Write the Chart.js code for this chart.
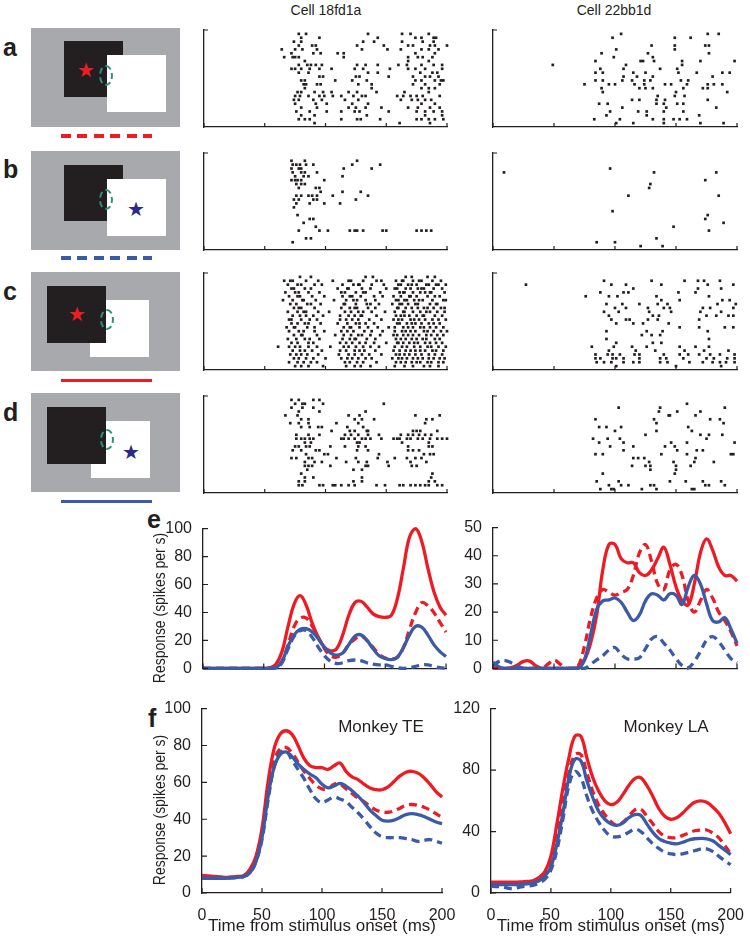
<!DOCTYPE html>
<html lang="en">
<head>
<meta charset="UTF-8">
<title>Border ownership responses</title>
<script src="https://cdn.jsdelivr.net/npm/chart.js"></script>
<style>
    body { margin: 0; background: #fff; font-family: "Liberation Sans", Arial, sans-serif; }
    #page { position: relative; width: 750px; height: 937px; overflow: hidden; }
    canvas { position: absolute; }
    .lbl { position: absolute; font-weight: bold; font-size: 25px; line-height: 25px; color: #231f20; }
    .cell { position: absolute; width: 100px; text-align: center; font-size: 14px; color: #231f20; }
    .mk { position: absolute; width: 120px; text-align: center; font-size: 17px; color: #231f20; }
    .ytitle { position: absolute; white-space: nowrap; font-size: 17px; line-height: 20px; color: #231f20;
              transform: translate(-50%, -50%) rotate(-90deg) scaleX(0.82); }
    .gray { position: absolute; background: #a7a9ac; width: 149px; height: 99px; }
    .blk { position: absolute; background: #231f20; width: 59px; height: 57px; }
    .wht { position: absolute; background: #fff; width: 59px; height: 57px; }
    .star { position: absolute; font-family: "DejaVu Sans", sans-serif; font-size: 20px; line-height: 20px; transform: translate(-50%, -52%); }
    .rf { position: absolute; width: 14px; height: 21px; box-sizing: border-box; border: 2px dashed #31907a; border-radius: 50%; }
    .bar { position: absolute; left: 61px; width: 91px; height: 4px; }
</style>
</head>
<body>
<div id="page">
    <!-- stimulus panels -->
    <div class="gray" style="left:31px;top:28px"></div>
    <div class="blk" style="left:64px;top:41px;height:56px"></div>
    <div class="wht" style="left:107px;top:55px"></div>
    <div class="star" style="left:86px;top:70px;color:#ed1c24">&#9733;</div>
    <div class="rf" style="left:99px;top:65px"></div>
    <div class="bar" style="top:134px;background:repeating-linear-gradient(90deg,#ed1c24 0 10px,transparent 10px 16.5px)"></div>

    <div class="gray" style="left:31px;top:151px"></div>
    <div class="blk" style="left:64px;top:165px;height:56px"></div>
    <div class="wht" style="left:107px;top:179px"></div>
    <div class="star" style="left:136px;top:209px;color:#2b2a8c">&#9733;</div>
    <div class="rf" style="left:99px;top:189px"></div>
    <div class="bar" style="top:256px;background:repeating-linear-gradient(90deg,#3b5ba9 0 10px,transparent 10px 16.5px)"></div>

    <div class="gray" style="left:31px;top:272px"></div>
    <div class="wht" style="left:90px;top:300px"></div>
    <div class="blk" style="left:47px;top:286px"></div>
    <div class="star" style="left:77px;top:314px;color:#ed1c24">&#9733;</div>
    <div class="rf" style="left:100px;top:309px"></div>
    <div class="bar" style="top:379px;height:3px;background:#ed1c24"></div>

    <div class="gray" style="left:31px;top:393px"></div>
    <div class="wht" style="left:91px;top:421px"></div>
    <div class="blk" style="left:47px;top:407px"></div>
    <div class="star" style="left:131px;top:452px;color:#2b2a8c">&#9733;</div>
    <div class="rf" style="left:100px;top:429px"></div>
    <div class="bar" style="top:500px;height:3px;background:#3b5ba9"></div>

    <div class="lbl" style="left:3px;top:35px">a</div>
    <div class="lbl" style="left:3px;top:157px">b</div>
    <div class="lbl" style="left:3px;top:279px">c</div>
    <div class="lbl" style="left:3px;top:400px">d</div>
    <div class="lbl" style="left:147px;top:507px">e</div>
    <div class="lbl" style="left:148px;top:706px">f</div>

    <div class="cell" style="left:276px;top:2px">Cell 18fd1a</div>
    <div class="cell" style="left:564px;top:2px">Cell 22bb1d</div>

    <canvas id="ra1"></canvas><canvas id="ra2"></canvas>
    <canvas id="rb1"></canvas><canvas id="rb2"></canvas>
    <canvas id="rc1"></canvas><canvas id="rc2"></canvas>
    <canvas id="rd1"></canvas><canvas id="rd2"></canvas>
    <canvas id="e1"></canvas><canvas id="e2"></canvas>
    <canvas id="f1"></canvas><canvas id="f2"></canvas>

    <div class="ytitle" style="left:160px;top:608px">Response (spikes per s)</div>
    <div class="ytitle" style="left:160px;top:810px">Response (spikes per s)</div>
    <div class="mk" style="left:321px;top:717px">Monkey TE</div>
    <div class="mk" style="left:606px;top:717px">Monkey LA</div>
</div>

<script>
    // spike times (ms) per trial, top trial first
    const rasterA1 = [
        [78,84,135,163,170,185],
        [80,95,143,174,179,189,191],
        [74,80,131,140,163,180,189],
        [78,89,92,126,148,168,172,186,190,200],
        [64,75,81,93,130,151,162,179,185,193],
        [72,90,96,110,115,174,190],
        [66,73,75,78,115,168,176,180,188],
        [83,168,185],
        [78,85,88,92,97,126,133,143,160,167,179,189,196],
        [72,75,80,87,95,105,124,131,153,168,174,182,196],
        [78,86,135,143,178,188,192],
        [95,98,125,128,152,172,182,186,193],
        [80,83,108,122,134,174,179,190,195,197],
        [82,84,93,96,127,138,172,182,194],
        [83,138,179,185,190],
        [77,80,91,98,105,119,126,142,165,185],
        [75,79,86,95,99,106,113,123,130,133,159,164,170,175,180,194],
        [74,78,90,97,116,127,162,171,176,182,187],
        [75,92,101,122,135,179,190],
        [80,93,119,125,133,146,168,176,186,194],
        [76,87,101,113,124,128,152,175,182,189,196],
        [80,91,134,182,196],
        [78,83,87,113,126,129,145,175,179,185,190,197],
        [91,161,186]
    ];
    const rasterA2 = [
        [105,176,185],
        [98,149,162],
        [],
        [130,149,174,177],
        [101,149],
        [89,127,177],
        [99,131],
        [84,121,123,132,155,170,198],
        [49,109,155],
        [88,107,137,151],
        [84,90,115,125,152,167,188,194],
        [107,118,131,180],
        [84,90,106,114,124,129,154,160],
        [75,95,100,116,124,141,146,159,176,181,188],
        [89,120,125,131,156,172,176],
        [90,150,192],
        [135,149,157],
        [114,120,134,141,176],
        [87,94,134,140,151,156],
        [106,142,183],
        [96,119,126,140,156],
        [93,126,169],
        [83,104,131,140,148,153,159],
        [101,115,140,170,189]
    ];
    const rasterB1 = [
        [],
        [72,83,126],
        [73,76,79,84,90,122,145],
        [72,78,80,115,138],
        [73,80,83,93],
        [75,82,86,114],
        [72,75,77,80,99],
        [76,80,83],
        [78,92,95],
        [96,114,129],
        [76,80,86,89,93,106,135],
        [74,78,90,93,125],
        [76,87,99,112],
        [74],
        [],
        [77],
        [87,90],
        [82],
        [92],
        [78,95,102,120,124,126,131,147,150,175,179,183,187],
        [],
        [84,88],
        [73],
        []
    ];
    const rasterB2 = [
        [], [], [], [96],
        [9,132,183], [], [174], [129],
        [128], [], [111,185], [],
        [], [], [98], [176],
        [174], [189], [148], [177],
        [], [134], [85,100], [121,139]
    ];
    const rasterC1 = [
        [79,88,133,139,166,171,184,190],
        [66,71,73,84,94,106,119,121,131,142,146,158,163,164,172,177,179,188,195],
        [69,77,80,91,97,114,123,127,128,138,148,160,162,168,171,175,183,185,191,193,199],
        [72,74,83,88,110,118,119,130,137,150,157,159,166,170,176,179,181,189,196],
        [67,75,78,86,95,113,116,125,131,133,145,161,164,165,172,178,182,186,187,198],
        [70,77,79,89,99,114,120,122,129,140,147,156,162,169,170,175,184,190,194],
        [65,73,81,82,92,107,117,123,126,133,141,158,160,165,167,173,177,180,188,197,199],
        [71,76,85,88,96,115,116,125,134,137,144,155,161,163,168,174,176,186,191,192],
        [74,78,80,91,113,120,124,126,135,141,159,160,166,171,176,181,184,189,195,198],
        [69,77,82,84,94,103,116,121,127,131,138,149,157,164,165,172,178,183,186,192,198],
        [73,79,84,90,98,112,119,124,129,130,142,158,162,165,169,175,180,181,190,196],
        [70,72,80,87,93,112,117,122,127,136,146,156,160,163,170,173,177,182,188,193,199],
        [72,77,83,86,96,110,118,125,128,133,140,159,161,167,171,174,179,185,189,194],
        [68,74,75,85,91,115,120,121,128,135,143,152,157,164,168,172,178,181,186,191,197],
        [70,78,82,91,99,113,118,123,132,138,147,157,163,166,170,174,181,184,189,195,200],
        [74,80,81,93,108,115,121,127,130,137,145,156,159,164,168,172,177,183,187,192,197],
        [69,76,83,87,95,114,120,124,125,134,141,158,162,166,171,175,180,183,190,194],
        [72,77,86,90,112,117,122,128,133,140,150,159,160,164,169,173,176,182,186,191,196],
        [61,70,75,79,86,93,104,115,119,125,131,137,144,157,163,167,173,178,184,187,193,199],
        [73,79,83,89,97,112,117,124,128,132,141,156,161,166,170,174,178,182,188,191,197],
        [71,76,80,85,94,111,119,124,130,136,146,158,161,165,169,174,179,185,190,196],
        [74,78,84,90,100,113,118,122,127,133,138,155,160,163,167,172,176,180,185,189,194,198],
        [70,77,82,88,93,116,120,126,131,142,158,162,166,171,175,178,184,187,193,197],
        [75,80,86,98,117,124,129,137,157,165,172,181,186,193]
    ];
    const rasterC2 = [
        [],
        [91,130,157,168,173,186],
        [27,97,109,138,176,197],
        [115,168,187],
        [88,107,111,152,166],
        [76,95,102,134,177],
        [138,153,188,194],
        [93,106,120,135,143,184,199],
        [100,109,127,140,145,172,178,197],
        [91,103,128,146,170,187],
        [95,131,136,175,183,193,197],
        [97,109,112,127,135,169],
        [101,115,123,144],
        [153,169,190,197],
        [93,126,139,176],
        [122,130,137],
        [93,177],
        [101,131,138],
        [81,99,114,126,153,166,177],
        [95,117,133,157,173,193],
        [84,94,98,104,116,120,140,153,160,169,178,186,198],
        [84,88,98,101,107,120,137,142,156,175,181,192,198],
        [85,91,97,107,115,120,137,143,161,172,180,186,191,198],
        [101,150,187]
    ];
    const rasterD1 = [
        [72,78,90,95],
        [75,81,83,98,148],
        [72,81,90],
        [78,95,133],
        [67,77,119,128,174,194],
        [80,86,124,130,140,183,188],
        [71,78,86,109,127,182],
        [80,87,94,97,118,131],
        [105,120,124,134,135,172,175,178,192],
        [76,86,95,116,121,127,135,144,162,168,172,177,182,187],
        [76,80,83,87,90,113,115,119,124,130,133,137,146,156,159,161,167,170,176,180,186,192,196,200],
        [83,88,126,128,163,185],
        [75,78,84,87,104,116,127,133,168,185,188],
        [73,80,92,95,126,135,168,172,177],
        [84,99,102,144,181,186,189],
        [72,76,86,89,109,125,143,157,167,174,179],
        [83,91,97,117,127,134,151,170,183],
        [83,86,89,104,133,135,152,171,175],
        [85,123,130],
        [80,188],
        [83,90,130,187],
        [78,83,123,130,185,190],
        [78,81,95,98,106,108,113,119,124,142,149,161,164,170,174,178,182,185,192,196],
        []
    ];
    const rasterD2 = [
        [],
        [159],
        [103,137,190],
        [136,151,170],
        [144,145,166],
        [84,132,178,186],
        [134,189],
        [87,93,105,160],
        [100,134,163],
        [125,170,177,188],
        [82,94,104,175],
        [87,107,146,159,198],
        [96,115,141,149],
        [107,151,167,172],
        [84,90,138,159,195,197],
        [115,119,124,166],
        [128,148,165,181],
        [114,125,129,150,162],
        [129,150],
        [90,149],
        [],
        [85,103,145,158,172,187],
        [95,105,111,129,132,174,177,190],
        [88,97,99,122,134,163,165]
    ];

    // smoothed responses (spikes per s) sampled every 5 ms
    const times = [0,5,10,15,20,25,30,35,40,45,50,55,60,65,70,75,80,85,90,95,100,
                   105,110,115,120,125,130,135,140,145,150,155,160,165,170,175,180,185,190,195,200];

    const e1RedSolid  = [0,0,0,0,0,0,0,0,0,0,0,0.5,3,12,30,46,52,45,32,22,15,12.5,14,24,38,47,48,44,39,37,36.5,38,50,72,94,100,91,72,55,44,38];
    const e1RedDash   = [0,0,0,0,0,0,0,0,0,0,0,0,1,5,17,30,36,36,30,22,14,9,8,11,17,21,23,20,15,10,7.5,6.5,8,15,28,40,47,45,40,33,26];
    const e1BlueSolid = [0,0,0,0,0,0,0,0,0,0,0,0,0.5,5,16,24,28,28.5,26,21,15,11,9.5,11,17,23,24,20,14,9,7,6.3,8,15,24,30,29.5,24,17,12,8.5];
    const e1BlueDash  = [0,0,0,0,0,0,0,0,0,0,0,0,0.3,4,14,23,27,27,22,15,9,5,3.5,4,5.5,6,5.5,4,3,2.5,2.5,1.5,0.5,0,0.5,1.5,2.5,2.5,1.5,0.5,0];

    const e2RedSolid  = [0.3,0,0,0.3,1.2,2.5,2.6,1,0,0,0,0,0,0,0.5,3,9,19,35,44,44,39,37.5,37.5,34,33,35,39,43,37,29,24,22.5,30,41,46,42,36,33,33,31];
    const e2RedDash   = [0,0,0,0,0,0,0,0,0,1.5,3,1.5,0,0,1,8,18,25,28,27,26,27,28,33,41,44,38,30,28,35,37,33,24,20,24,28,25,20,17,13,8];
    const e2BlueSolid = [2.3,0.5,0,0,0,0,0,0,0,0,0,0,0,0,0,3,12,21,24,24.3,25,23.5,20,17,19,24,26.5,26,24.3,26.5,26,22.7,29,33,30,23,17,16.5,18,14,9];
    const e2BlueDash  = [1,2.5,2.8,2,0.8,0,0,0,0,0,0,0,0,0,0,0,1.5,3,4.5,6.5,7.4,5,3.4,3.3,3.8,7,10.5,11.3,9,6.5,3.5,1,0.2,2.5,6,10,11.3,9.5,6.5,3.5,2];

    const teRedSolid  = [9.5,9.3,9,8.8,8.5,8.7,9,9.5,13,20,35,60,78,86,88,86,80,73,69,68,68,67,69,70.5,66,63,61.5,59,57,56,56,57.5,60.5,63.5,65.5,66,65,62.5,59,55,52];
    const teRedDash   = [9,8.8,8.6,8.5,8.5,8.5,8.5,9,12,19,33,56,72,78,79,76,71,66,62,58.5,56.5,56.5,59,59,56.5,54,51.5,49.5,47,45,44,43.8,44.5,46,47.5,48,47.5,46.5,45,43,41];
    const teBlueSolid = [8,8,8,8,8,8.2,8.5,9,11,17,30,52,68,75,76.5,74,70,67,64.5,62.5,59,57,58,59.5,58,55.5,52.5,49,45,42,39.5,39,39.5,41,42.5,43,42.5,41.5,40,38.5,37.5];
    const teBlueDash  = [8,8,8,8,8,8.2,8.5,9,11,17,29,50,68,76,77,72,67,62,56,51,49,50.5,52,51,49.5,46.5,43.5,40,36,32.5,30.5,30,30,30,29.5,29,28,28.5,29,28,27];

    const laRedSolid  = [7,7,7,7,7,7.2,7.5,8,10,14,24,45,68,88,102,102,88,75,66,60,57.5,59,64,70,74.5,75,70,63,55,50,48,49,52,56,59,60,59,56,52,46,38.5];
    const laRedDash   = [6,6,6,6,6,6.2,6.5,7,9,12,20,38,58,78,90,90,78,66,57,51,46.5,44,46,50,54,54.5,50,45,40,37,36,36,37.5,39,40.5,41,41,39,36,31,25.5];
    const laBlueSolid = [5.5,5.5,5.5,5.5,5.5,5.7,6,6.5,8,11,17,32,52,75,87,86,73,62,53,48,45,44,45.5,49,51,50.5,45,39.5,35.5,33.5,32.5,32,33,34.5,35.3,35.5,35.3,34,31,28,25];
    const laBlueDash  = [4.5,4.2,4,3,3,4,4.5,5,6.5,9,15,28,48,70,79,75,63,53,46,40.5,37,36.5,37.5,39.5,41.5,40,36,32,29,26.5,25.5,25,25.5,26.5,27.5,28.5,28.7,27,24,21,18.4];

    const timeTicks = [0, 50, 100, 150, 200];
    const TRIALS = 24;

    const RED = '#ed1c24';
    const BLUE = '#3b5ba9';
    const INK = '#231f20';

    Chart.defaults.font.family = "'Liberation Sans', Arial, sans-serif";
    Chart.defaults.color = INK;

    // short tick marks pointing into the plot
    const inTicks = {
        id: 'inTicks',
        afterDatasetsDraw(chart, args, opts) {
            const { ctx, chartArea: a, scales } = chart;
            if (!opts.x && !opts.y) return;
            ctx.save();
            ctx.strokeStyle = INK;
            ctx.lineWidth = 1.2;
            ctx.beginPath();
            (opts.x || []).forEach(v => {
                const px = scales.x.getPixelForValue(v);
                ctx.moveTo(px, a.bottom);
                ctx.lineTo(px, a.bottom - opts.len);
            });
            (opts.y || []).forEach(v => {
                const py = scales.y.getPixelForValue(v);
                ctx.moveTo(a.left, py);
                ctx.lineTo(a.left + opts.len, py);
            });
            ctx.stroke();
            ctx.restore();
        }
    };
    Chart.register(inTicks);

    // size and place a canvas so that its chart area lands on box
    function place(id, box, pad) {
        const c = document.getElementById(id);
        c.width = box.r - box.l + pad.l + pad.r;
        c.height = box.b - box.t + pad.t + pad.b;
        c.style.left = (box.l - pad.l) + 'px';
        c.style.top = (box.t - pad.t) + 'px';
        return c;
    }

    function raster(id, rows, box) {
        const pad = { l: 10, t: 6, r: 8, b: 8 };
        const c = place(id, box, pad);
        const pts = [];
        rows.forEach((row, i) => row.forEach(t => pts.push({ x: t, y: TRIALS - i })));
        new Chart(c, {
            type: 'scatter',
            data: { datasets: [{ data: pts, pointStyle: 'rect', pointRadius: 1.9, pointBorderWidth: 0, pointBackgroundColor: INK, clip: 5 }] },
            options: {
                responsive: false, animation: false, events: [],
                layout: { padding: { top: pad.t, right: pad.r, left: 0, bottom: 0 } },
                plugins: { legend: { display: false }, tooltip: { enabled: false }, inTicks: { x: timeTicks, y: [TRIALS + 1], len: 4 } },
                scales: {
                    x: { type: 'linear', min: 0, max: 200, ticks: { display: false }, grid: { display: false },
                         border: { color: INK, width: 1.3 }, afterFit: s => { s.height = pad.b; } },
                    y: { type: 'linear', min: 0, max: TRIALS + 1, ticks: { display: false }, grid: { display: false },
                         border: { color: INK, width: 1.3 }, afterFit: s => { s.width = pad.l; } }
                }
            }
        });
    }

    raster('ra1', rasterA1, { l: 204, t: 30, r: 447, b: 127 });
    raster('ra2', rasterA2, { l: 493, t: 30, r: 737, b: 127 });
    raster('rb1', rasterB1, { l: 204, t: 153, r: 447, b: 250 });
    raster('rb2', rasterB2, { l: 493, t: 153, r: 737, b: 250 });
    raster('rc1', rasterC1, { l: 204, t: 273, r: 447, b: 370 });
    raster('rc2', rasterC2, { l: 493, t: 273, r: 737, b: 370 });
    raster('rd1', rasterD1, { l: 204, t: 396, r: 447, b: 493 });
    raster('rd2', rasterD2, { l: 493, t: 396, r: 737, b: 493 });

    function series(values, color, dashed) {
        return {
            data: values.map((v, i) => ({ x: times[i], y: v })),
            borderColor: color,
            borderWidth: 3.3,
            borderDash: dashed ? [8, 5] : [],
            pointRadius: 0,
            tension: 0.4,
            fill: false,
            clip: 5
        };
    }

    function curves(id, box, pad, yMax, yStep, yTicks, sets, withX) {
        const c = place(id, box, pad);
        new Chart(c, {
            type: 'line',
            data: { datasets: sets },
            options: {
                responsive: false, animation: false, events: [],
                layout: { padding: { top: pad.t, right: pad.r, left: 0, bottom: 0 } },
                plugins: { legend: { display: false }, tooltip: { enabled: false }, inTicks: { x: timeTicks, y: yTicks, len: 5 } },
                scales: {
                    x: {
                        type: 'linear', min: 0, max: 200,
                        ticks: { display: withX, stepSize: 50, padding: 5, maxRotation: 0, font: { size: 16 } },
                        grid: { display: false },
                        border: { color: INK, width: 1.3 },
                        title: { display: withX, text: 'Time from stimulus onset (ms)', font: { size: 17 }, padding: 0 },
                        afterFit: s => { s.height = pad.b; }
                    },
                    y: {
                        min: 0, max: yMax,
                        ticks: { stepSize: yStep, padding: 3, font: { size: 16 } },
                        grid: { display: false },
                        border: { color: INK, width: 1.3 },
                        afterFit: s => { s.width = pad.l; }
                    }
                }
            }
        });
    }

    curves('e1', { l: 203, t: 528, r: 446, b: 673 }, { l: 40, t: 12, r: 10, b: 8 }, 100, 20, [0, 20, 40, 60, 80, 100], [
        series(e1BlueDash, BLUE, true), series(e1BlueSolid, BLUE, false),
        series(e1RedDash, RED, true), series(e1RedSolid, RED, false)
    ], false);

    curves('e2', { l: 493, t: 527, r: 737, b: 673 }, { l: 40, t: 12, r: 10, b: 8 }, 50, 10, [0, 10, 20, 30, 40, 50], [
        series(e2BlueDash, BLUE, true), series(e2BlueSolid, BLUE, false),
        series(e2RedDash, RED, true), series(e2RedSolid, RED, false)
    ], false);

    curves('f1', { l: 202, t: 708, r: 442, b: 893 }, { l: 40, t: 12, r: 22, b: 44 }, 100, 20, [0, 20, 40, 60, 80, 100], [
        series(teBlueDash, BLUE, true), series(teBlueSolid, BLUE, false),
        series(teRedDash, RED, true), series(teRedSolid, RED, false)
    ], true);

    curves('f2', { l: 491, t: 708, r: 733, b: 893 }, { l: 45, t: 12, r: 16, b: 44 }, 120, 40, [0, 40, 80, 120], [
        series(laBlueDash, BLUE, true), series(laBlueSolid, BLUE, false),
        series(laRedDash, RED, true), series(laRedSolid, RED, false)
    ], true);
</script>
</body>
</html>
